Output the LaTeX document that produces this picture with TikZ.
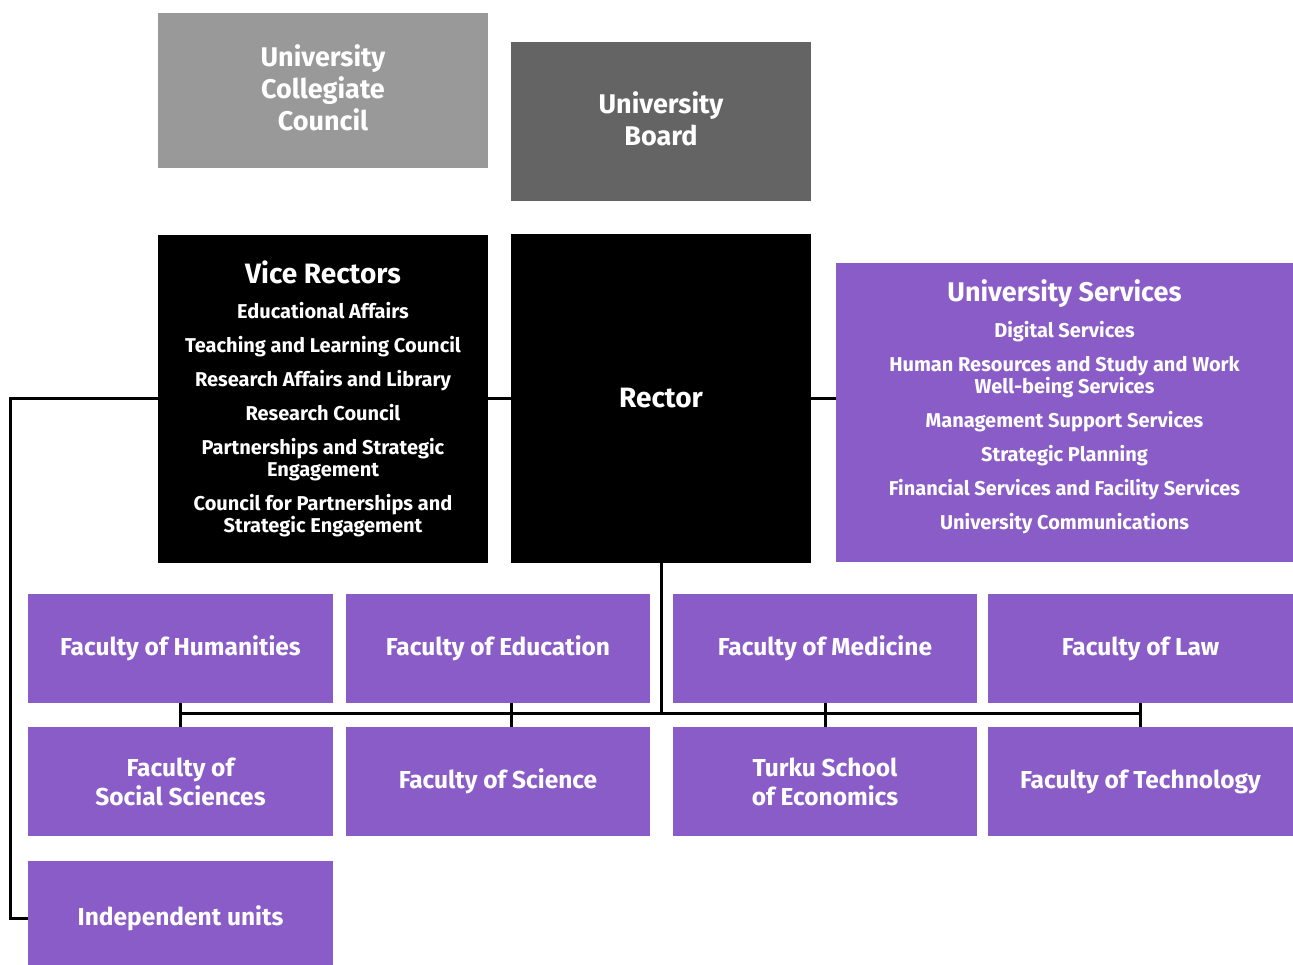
\documentclass[tikz,border=0pt]{standalone}
\usepackage{fontspec}
\setmainfont{Fira Sans}
\definecolor{lgray}{HTML}{999999}
\definecolor{dgray}{HTML}{646464}
\definecolor{purp}{HTML}{8A5CC8}
\begin{document}
\begin{tikzpicture}[x=1pt,y=-1pt,
  box/.style={rectangle, inner sep=0pt, text=white, align=center, font=\bfseries},
  fac/.style={box, fill=purp, minimum width=305, minimum height=109, font=\fontsize{24.5}{29}\selectfont\bfseries},
  conn/.style={line width=3pt, black}]
\useasboundingbox (0,0) rectangle (1293,964);
% top boxes
\node[box, fill=lgray, minimum width=330, minimum height=155] (ucc) at (323,90.5) {};
\node[box, font=\fontsize{27}{32}\selectfont\bfseries] (ucctext) at (323,87.5) {University\\Collegiate\\Council};
\node[box, fill=dgray, minimum width=300, minimum height=159] (ub) at (661,121.5) {};
\node[box, font=\fontsize{27}{32}\selectfont\bfseries] (ubtext) at (661,118.5) {University\\Board};
% vice rectors
\node[box, fill=black, minimum width=330, minimum height=328, font=\fontsize{20}{22}\selectfont\bfseries] (vr) at (323,399)
 {{\fontsize{28}{30}\selectfont Vice Rectors}\\[13pt]
  Educational Affairs\\[12pt]
  Teaching and Learning Council\\[12pt]
  Research Affairs and Library\\[12pt]
  Research Council\\[12pt]
  Partnerships and Strategic\\Engagement\\[12pt]
  Council for Partnerships and\\Strategic Engagement};
\node[box, fill=black, minimum width=300, minimum height=329, font=\fontsize{28}{30}\selectfont\bfseries] (rector) at (661,398.5) {Rector};
\node[box, fill=purp, minimum width=457, minimum height=299] (us) at (1064.5,412.5) {};
\node[box, font=\fontsize{20}{22}\selectfont\bfseries] (ustext) at (1064.5,406.5)
 {{\fontsize{27}{30}\selectfont University Services}\\[13pt]
  Digital Services\\[12pt]
  Human Resources and Study and Work\\Well-being Services\\[12pt]
  Management Support Services\\[12pt]
  Strategic Planning\\[12pt]
  Financial Services and Facility Services\\[12pt]
  University Communications};
% faculties
\node[fac] (hum) at (180.5,648.5) {Faculty of Humanities};
\node[fac, minimum width=304] (edu) at (498,648.5) {Faculty of Education};
\node[fac, minimum width=304] (med) at (825,648.5) {Faculty of Medicine};
\node[fac] (law) at (1140.5,648.5) {Faculty of Law};
\node[fac] (soc) at (180.5,781.5) {Faculty of\\Social Sciences};
\node[fac, minimum width=304] (sci) at (498,781.5) {Faculty of Science};
\node[fac, minimum width=304] (tse) at (825,781.5) {Turku School\\of Economics};
\node[fac] (tech) at (1140.5,781.5) {Faculty of Technology};
\node[fac, minimum height=114] (ind) at (180.5,918) {Independent units};
% connectors
\coordinate (j) at (661,713);
\coordinate (lx) at (10,398);
\draw[conn] (vr.west |- lx) -- (lx) |- (ind.west);
\draw[conn] (vr.east |- rector.east) -- (rector.west);
\draw[conn] (rector.east) -- (rector.east -| us.west);
\draw[conn] (rector.south) -- (j);
\draw[conn] (j -| hum.south) -- (j -| law.south);
\draw[conn] (hum.south) -- (soc.north);
\draw[conn] ([xshift=13pt]edu.south) -- ([xshift=13pt]sci.north);
\draw[conn] (med.south) -- (tse.north);
\draw[conn] (law.south) -- (tech.north);
\end{tikzpicture}
\end{document}
